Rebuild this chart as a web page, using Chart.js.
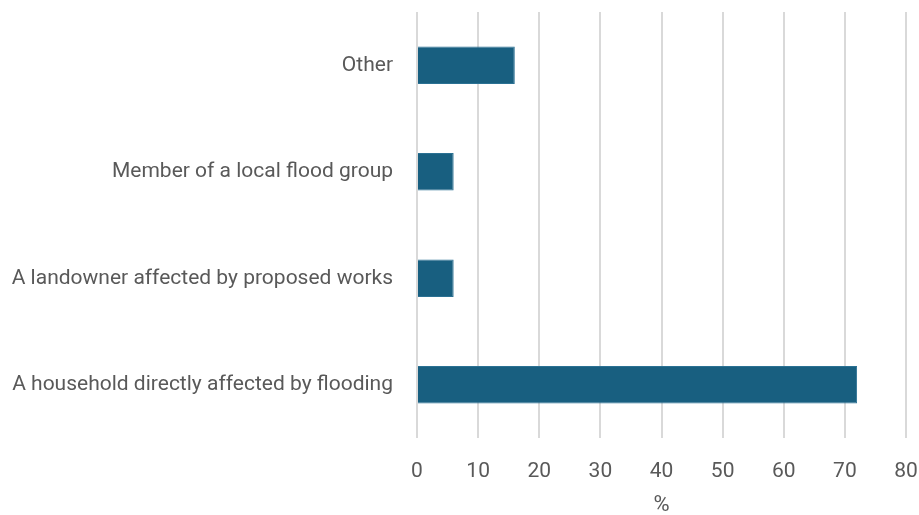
<!DOCTYPE html>
<html>
<head>
<meta charset="utf-8">
<script src="https://cdn.jsdelivr.net/npm/chart.js@4/dist/chart.umd.min.js"></script>
<style>
	html, body { margin: 0; padding: 0; background: #fff; }
	#wrap { width: 919px; height: 515px; }
</style>
</head>
<body>
<div id="wrap"><canvas id="myChart"></canvas></div>
<script>
const categories = ["Other", "Member of a local flood group", "A landowner affected by proposed works", "A household directly affected by flooding"];
const percentValues = [16, 6, 6, 72];
const xTitle = "%";

const TEXT = "#595959";
const FONT = "Roboto, 'Liberation Sans', sans-serif";

let ctx = document.getElementById("myChart");

new Chart(ctx, {
	type: "bar",
	data: {
		labels: categories,
		datasets: [{
			label: "%",
			data: percentValues,
			backgroundColor: "#185f80",
			borderColor: "#2b7193",
			borderWidth: 1,
			categoryPercentage: 1,
			barPercentage: 0.35
		}]
	},
	options: {
		indexAxis: "y",
		responsive: true,
		maintainAspectRatio: false,
		animation: false,
		layout: { padding: { top: 12, right: 13, bottom: 0, left: 0 } },
		plugins: {
			legend: { display: false },
			tooltip: { enabled: false }
		},
		scales: {
			x: {
				min: 0,
				max: 80,
				ticks: { stepSize: 10, color: TEXT, font: { family: FONT, size: 21 }, padding: 21 },
				grid: { color: "#d9d9d9", lineWidth: 2, drawTicks: false },
				border: { display: false },
				title: { display: true, text: xTitle, color: TEXT, font: { family: FONT, size: 22 }, padding: { top: 8, bottom: -4 } },
				afterFit: function (scale) {
					scale.paddingLeft = 0;
					scale.paddingRight = 0;
					scale.height = 77;
				}
			},
			y: {
				ticks: { color: TEXT, font: { family: FONT, size: 21 }, padding: 24 },
				grid: { display: false, drawTicks: false, tickLength: 0 },
				border: { display: false },
				afterFit: function (scale) {
					scale.paddingTop = 0;
					scale.paddingBottom = 0;
					scale.width = 417;
				}
			}
		}
	}
});
</script>
</body>
</html>
